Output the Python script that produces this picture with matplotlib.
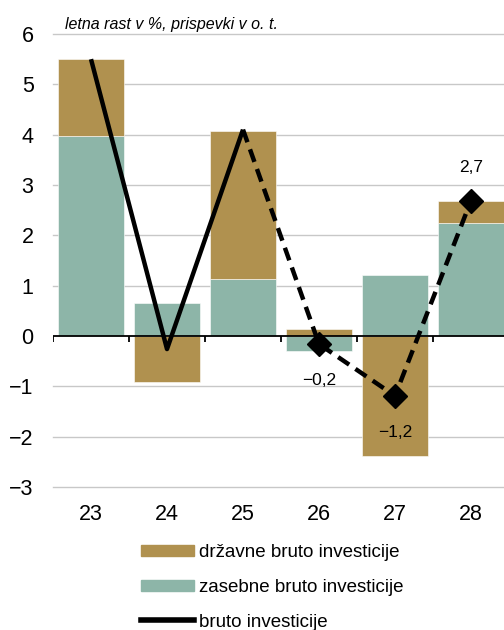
import numpy as np
from matplotlib import pyplot as plt
from matplotlib.patches import Patch
from matplotlib.lines import Line2D

# podatki
leta = ['23', '24', '25', '26', '27', '28']
zasebne = [3.97, 0.65, 1.13, -0.29, 1.21, 2.24]
drzavne = [1.53, -0.91, 2.95, 0.13, -2.39, 0.45]
bruto = [5.5, -0.26, 4.1, -0.16, -1.19, 2.69]
oznake = {3: '−0,2', 4: '−1,2', 5: '2,7'}
y_ticks = [-3, -2, -1, 0, 1, 2, 3, 4, 5, 6]

c_drz = '#b0914f'
c_zas = '#8db5a8'

plt.rcParams['font.family'] = ['Liberation Sans', 'DejaVu Sans']
plt.rcParams['axes.unicode_minus'] = True

fig = plt.figure(figsize=(5.04, 6.3), dpi=100)
ax = fig.add_axes([53/504, 1 - 487/630, 456/504, 453/630])

x = np.arange(len(leta))
w = 0.87

# zlaganje po predznaku
pos = np.zeros(len(x))
neg = np.zeros(len(x))
for vals, col in ((zasebne, c_zas), (drzavne, c_drz)):
    vals = np.array(vals)
    bottom = np.where(vals >= 0, pos, neg)
    ax.bar(x, vals, w, bottom=bottom, color=col, edgecolor='white', linewidth=0.4, zorder=2)
    pos = pos + np.where(vals >= 0, vals, 0)
    neg = neg + np.where(vals < 0, vals, 0)

# ničelna os s kljukicami med kategorijami
ax.axhline(0, color='black', lw=1.3, zorder=2.5)
ax.vlines(np.arange(-0.5, 6.0, 1.0), -0.12, 0, color='black', lw=1.3, zorder=2.5)

# črta: realizacija polna, napoved črtkana
ax.plot(x[:3], bruto[:3], color='black', lw=3.2, solid_capstyle='butt', zorder=3)
ax.plot(x[2:], bruto[2:], color='black', lw=3.2, linestyle=(0, (3, 1.7)), zorder=3)
ax.plot(x[3:], bruto[3:], linestyle='none', marker='D', ms=12, color='black', zorder=4)

for i, txt in oznake.items():
    off = 24 if bruto[i] > 0 else -26
    ax.annotate(txt, (x[i], bruto[i]), xytext=(0, off), textcoords='offset points',
                ha='center', va='center', fontsize=12.5)

ax.set_xlim(-0.5, 5.5)
ax.set_ylim(-3, 6)
ax.set_yticks(y_ticks)
ax.set_yticklabels([str(v).replace('-', '−') for v in y_ticks])
ax.set_xticks(x)
ax.set_xticklabels(leta)
ax.tick_params(axis='y', length=0, pad=14, labelsize=15.5)
ax.tick_params(axis='x', length=0, pad=12, labelsize=15.5)

for v in y_ticks:
    if v != 0:
        ax.axhline(v, color='#c8c8c8', lw=1, zorder=1, clip_on=False)
for s in ax.spines.values():
    s.set_visible(False)

fig.text(65/504, 1 - 24/630, 'letna rast v %, prispevki v o. t.', style='italic',
         fontsize=11.5, va='center', ha='left')

handles = [Patch(color=c_drz), Patch(color=c_zas), Line2D([], [], color='black', lw=4)]
labels = ['državne bruto investicije', 'zasebne bruto investicije', 'bruto investicije']
fig.legend(handles, labels, loc='upper left', bbox_to_anchor=(141/504, 1 - 544/630),
           frameon=False, fontsize=13.5, handlelength=2.8, handleheight=0.55,
           handletextpad=0.3, labelspacing=0.95, borderpad=0, borderaxespad=0)

fig.savefig('out.png', dpi=100)
